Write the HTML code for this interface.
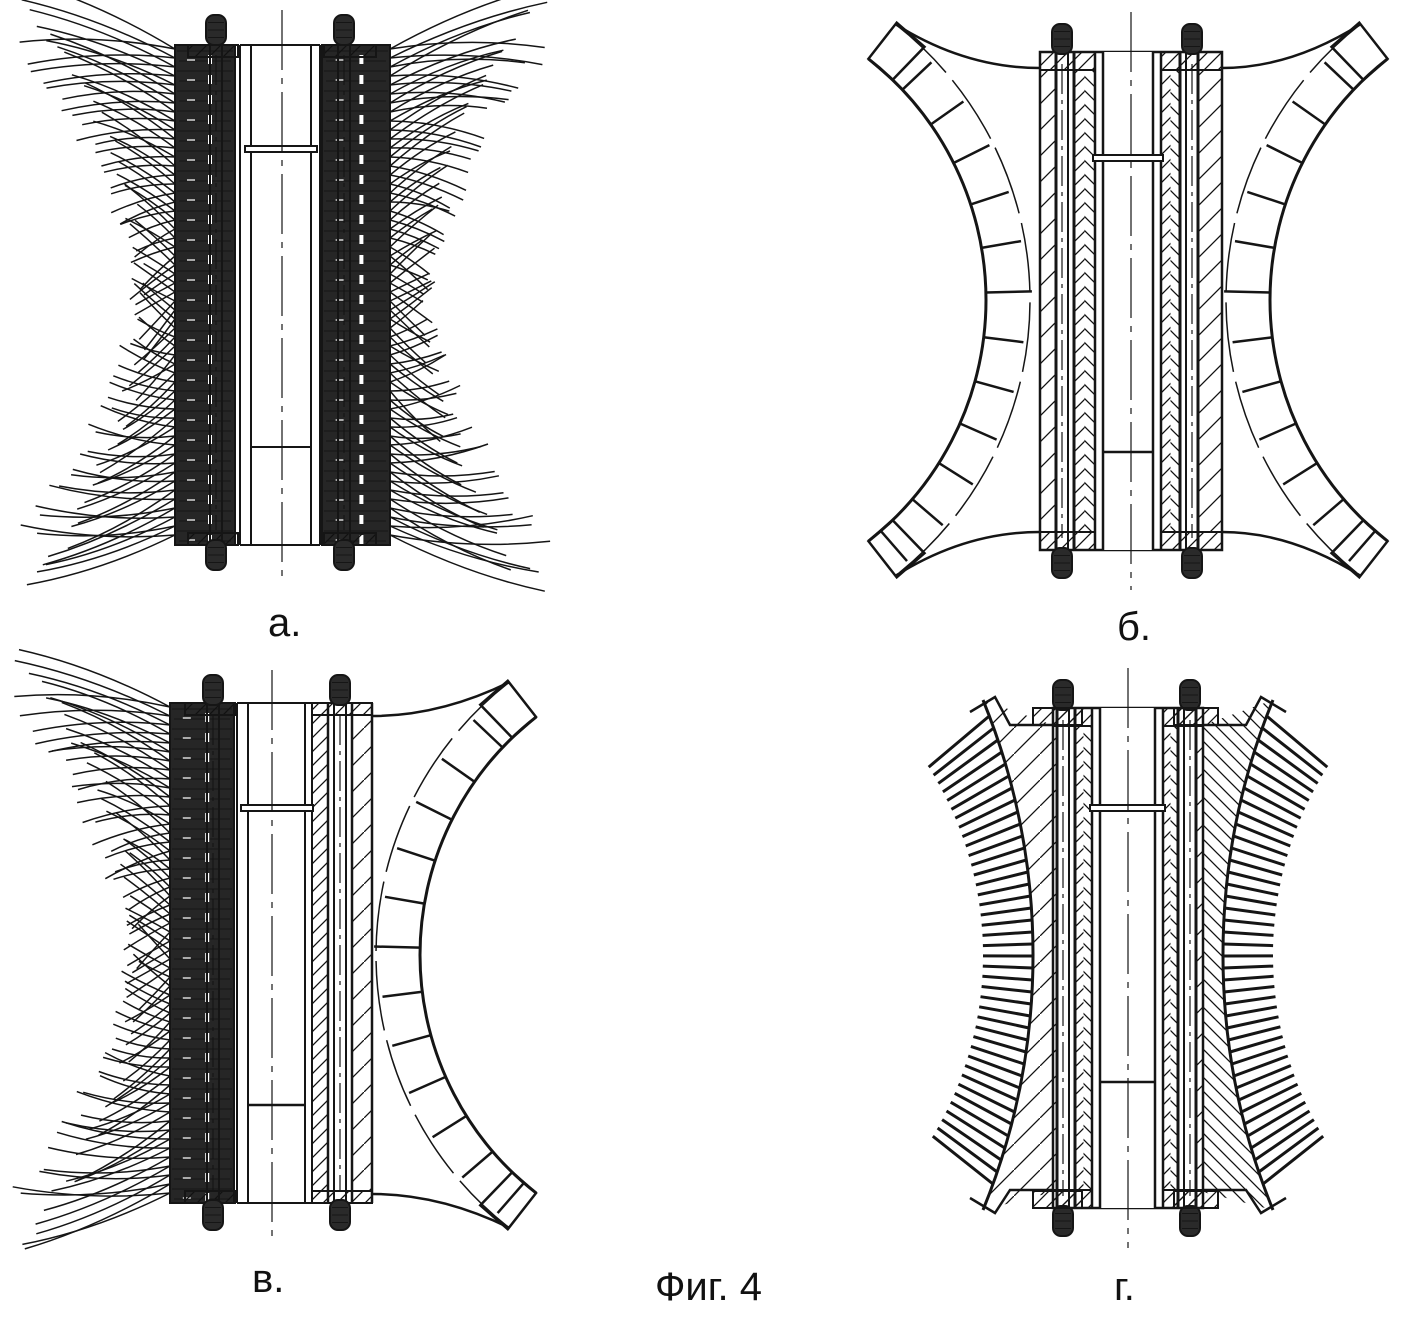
<!DOCTYPE html>
<html><head><meta charset="utf-8">
<style>
html,body{margin:0;padding:0;background:#fff;}
svg{display:block;}
text{font-family:"Liberation Sans",sans-serif;fill:#111;}
</style></head>
<body>
<svg id="s" width="1423" height="1317" viewBox="0 0 1423 1317" xmlns="http://www.w3.org/2000/svg">
<defs>
<pattern id="hd" patternUnits="userSpaceOnUse" width="14" height="14"><path d="M-2,16 L16,-2 M-2,2 L2,-2 M12,16 L16,12" stroke="#111" stroke-width="1.3"/></pattern>
<pattern id="hr" patternUnits="userSpaceOnUse" width="14" height="14"><path d="M-2,-2 L16,16 M12,-2 L16,2 M-2,12 L2,16" stroke="#111" stroke-width="1.3"/></pattern>
<pattern id="hw" patternUnits="userSpaceOnUse" width="26" height="26"><path d="M-2,28 L28,-2" stroke="#111" stroke-width="1.3"/></pattern>
</defs>
<g id="g"></g>
<text x="268" y="636" font-size="40">а.</text>
<text x="1117" y="640" font-size="40">б.</text>
<text x="252" y="1292" font-size="40">в.</text>
<text x="655" y="1300" font-size="40">Фиг. 4</text>
<text x="1114" y="1300" font-size="40">г.</text>
</svg>
<script>
var h='';var K='#151515';
function L(a,b,c,d,w,ex){h+='<line x1="'+a+'" y1="'+b+'" x2="'+c+'" y2="'+d+'" stroke="'+K+'" stroke-width="'+(w||2)+'" '+(ex||'')+'/>';}
function R(x,y,w,hh,sw,f){h+='<rect x="'+x+'" y="'+y+'" width="'+w+'" height="'+hh+'" stroke="'+K+'" stroke-width="'+(sw==null?2:sw)+'" fill="'+(f||'none')+'"/>';}
function P(d,w,f,ex){h+='<path d="'+d+'" stroke="'+K+'" stroke-width="'+(w||2)+'" fill="'+(f||'none')+'" '+(ex||'')+'/>';}
var seed=7;function rnd(){seed=(seed*16807)%2147483647;return seed/2147483647;}
function nut(x,y){h+='<rect x="'+(x-10)+'" y="'+y+'" width="20" height="30" rx="8" fill="#2a2a2a" stroke="'+K+'" stroke-width="2"/>';
 for(var i=1;i<4;i++)L(x-8,y+i*7.5,x+8,y+i*7.5,1,'stroke="#ddd"');}
function bolt(x,y1,y2){L(x-6,y1+10,x-6,y2-10,2);L(x+6,y1+10,x+6,y2-10,2);L(x,y1+40,x,y2-40,1.2,'stroke-dasharray="30 6 4 6"');nut(x,y1);nut(x,y2-30);}
function center(x,y1,y2){L(x,y1,x,y2,1.2,'stroke-dasharray="60 8 6 8"');}
function brush(x,y,w,hh){R(x,y,w,hh,2,'#262626');
 for(var yy=y+6;yy<y+hh-6;yy+=20){L(x+2,yy,x+w-2,yy,1,'stroke="#8a8a8a"');L(x+4,yy+10,x+w-4,yy+10,1,'stroke="#555"');
  h+='<rect x="'+(x+w*0.55)+'" y="'+(yy+4)+'" width="4" height="9" fill="#fff"/>';
  h+='<rect x="'+(x+w*0.2)+'" y="'+(yy+8)+'" width="8" height="2" fill="#aaa"/>';}}
function bristles(x0,yc,half,dir,farAdd){
 for(var y=yc-half+4;y<=yc+half-4;y+=9){var u=(y-yc)/half;
  for(var s=-1;s<=1;s+=2){var len=30+farAdd*u*u+rnd()*15;var ex=x0-dir*len;var ey=y+s*(18+rnd()*22)+u*30;
   var cx=(x0+ex)/2, cy=(y+ey)/2 + u*12;
   P('M'+x0+','+y+' Q'+cx.toFixed(1)+','+cy.toFixed(1)+' '+ex.toFixed(1)+','+ey.toFixed(1),1.5,'none');}}}
// ---------- Figure a ----------
(function(){
 var cx=282;
 bristles(175,295,250,1,125);bristles(390,295,250,-1,125);
 brush(175,45,60,500);brush(322,45,68,500);
 L(240,45,240,545);L(251,45,251,545);L(311,45,311,545);L(320,45,320,545);
 L(235,45,235,545,1);L(322,45,322,545,1);
 L(240,45,320,45);L(240,545,320,545);
 R(188,45,50,12,2,'url(#hd)');R(188,533,50,12,2,'url(#hd)');
 R(324,45,52,12,2,'url(#hd)');R(324,533,52,12,2,'url(#hd)');
 R(245,146,72,6,2,'#fff');L(252,447,310,447);
 bolt(216,15,570);bolt(344,15,570);
 center(cx,10,580);
})();
// ---------- band helper ----------
function band(cx,cy,R1,R2,ang,side){
 function pt(r,a){var t=a*Math.PI/180;return [cx+side*r*Math.cos(t), cy-r*Math.sin(t)];}
 var a1=pt(R1,ang),a2=pt(R1,-ang),b1=pt(R2,ang),b2=pt(R2,-ang);
 var sw=side>0?1:0;
 P('M'+a1+' A'+R1+','+R1+' 0 0 '+sw+' '+a2,3);
 P('M'+b1+' A'+R2+','+R2+' 0 0 '+sw+' '+b2,1.5,'none','stroke-dasharray="70 10"');
 for(var a=-ang+3;a<=ang-3;a+=8.4){var p=pt(R1,a),q=pt(R2-(Math.abs(a)<2?-2:4),a);L(p[0].toFixed(1),p[1].toFixed(1),q[0].toFixed(1),q[1].toFixed(1),2.5);}
 [[ang,ang-6],[-ang,-ang+6]].forEach(function(e){
  var p1=pt(R1,e[0]),p2=pt(R2+2,e[0]),p3=pt(R2+2,e[1]),p4=pt(R1,e[1]);
  P('M'+p1+' L'+p2+' L'+p3+' L'+p4+' Z',2.5);});
 return [b1,b2,a1,a2];}
function body(x1,x2,y1,y2,bx1,bx2,t1,t2,capY,lowY){
 var c=(x1+x2)/2;
 R(x1,y1,x2-x1,y2-y1,2.5);
 h+='<rect x="'+x1+'" y="'+(y1+18)+'" width="'+(bx1-6-x1)+'" height="'+(y2-y1-36)+'" fill="url(#hw)"/>';
 h+='<rect x="'+(bx1+12)+'" y="'+(y1+18)+'" width="'+((t1-(bx1+12))/2)+'" height="'+(y2-y1-36)+'" fill="url(#hd)"/>';
 h+='<rect x="'+(bx1+12+(t1-(bx1+12))/2)+'" y="'+(y1+18)+'" width="'+((t1-(bx1+12))/2)+'" height="'+(y2-y1-36)+'" fill="url(#hr)"/>';
 h+='<rect x="'+(bx2+6)+'" y="'+(y1+18)+'" width="'+(x2-bx2-6)+'" height="'+(y2-y1-36)+'" fill="url(#hw)"/>';
 h+='<rect x="'+t2+'" y="'+(y1+18)+'" width="'+((bx2-12-t2)/2)+'" height="'+(y2-y1-36)+'" fill="url(#hd)"/>';
 h+='<rect x="'+(t2+(bx2-12-t2)/2)+'" y="'+(y1+18)+'" width="'+((bx2-12-t2)/2)+'" height="'+(y2-y1-36)+'" fill="url(#hr)"/>';
 L(bx1-6,y1,bx1-6,y2,3);L(bx1+12,y1,bx1+12,y2,3);L(bx2-12,y1,bx2-12,y2,3);L(bx2+6,y1,bx2+6,y2,3);
 L(t1,y1,t1,y2,2.5);L(t1+8,y1,t1+8,y2,2);L(t2,y1,t2,y2,2.5);L(t2-8,y1,t2-8,y2,2);
 h+='<rect x="'+(t1+9)+'" y="'+y1+'" width="'+(t2-t1-18)+'" height="'+(y2-y1)+'" fill="#fff"/>';
 L(t1+8,y1,t1+8,y2,2.5);L(t2-8,y1,t2-8,y2,2.5);
 R(x1,y1,t1-x1,18,2,'url(#hd)');R(t2,y1,x2-t2,18,2,'url(#hd)');
 R(x1,y2-18,t1-x1,18,2,'url(#hd)');R(t2,y2-18,x2-t2,18,2,'url(#hd)');
 R(t1-2,capY,t2-t1+4,6,2,'#fff');L(t1+8,lowY,t2-8,lowY,2.5);
 bolt(bx1,y1-28,y2+28);bolt(bx2,y1-28,y2+28);
 center(c,y1-40,y2+40);
}
(function(){
 var b=band(680,300,306,350,52,1);
 P('M'+b[0]+' Q965,68 1040,68',2.5);P('M'+b[1]+' Q965,532 1040,532',2.5);
 var c=band(1576,300,306,350,52,-1);
 P('M'+c[0]+' Q1291,68 1222,68',2.5);P('M'+c[1]+' Q1291,532 1222,532',2.5);
 body(1040,1222,52,550,1062,1192,1095,1161,155,452);
})();
// ---------- Figure v ----------
(function(){
 seed=11;
 bristles(170,953,250,1,125);
 brush(170,703,64,500);
 L(237,703,237,1203);L(248,703,248,1203);L(305,703,305,1203);L(312,703,312,1203);
 L(237,703,372,703);L(237,1203,372,1203);
 R(185,703,50,12,2,'url(#hd)');R(185,1191,50,12,2,'url(#hd)');
 h+='<rect x="312" y="715" width="16" height="476" fill="url(#hd)"/>';
 h+='<rect x="352" y="715" width="20" height="476" fill="url(#hw)"/>';
 L(328,703,328,1203,2.5);L(352,703,352,1203,2.5);L(372,703,372,1203,2.5);
 R(312,703,60,12,2,'url(#hd)');R(312,1191,60,12,2,'url(#hd)');
 R(241,805,72,6,2,'#fff');L(249,1105,304,1105,2.5);
 bolt(213,675,1230);bolt(340,675,1230);
 center(272,670,1240);
 var b=band(722,955,302,346,52,-1);
 P('M'+b[0]+' Q440,716 372,716',2.5);P('M'+b[1]+' Q440,1194 372,1194',2.5);
})();
// ---------- Figure g ----------
(function(){
 var cx=1128;
 P('M983,700 A675,675 0 0 1 983,1210',3);
 P('M1273,700 A675,675 0 0 0 1273,1210',3);
 h+='<path d="M983,700 A675,675 0 0 1 983,1210 L1053,1192 L1053,725 Z" fill="url(#hw)"/>';
 h+='<path d="M1273,700 A675,675 0 0 0 1273,1210 L1203,1192 L1203,725 Z" fill="url(#hr)"/>';
 P('M970,712 L995,697 L1010,725 L1053,725',2.5);P('M970,1198 L995,1213 L1010,1190 L1053,1190',2.5);
 P('M1286,712 L1261,697 L1246,725 L1203,725',2.5);P('M1286,1198 L1261,1213 L1246,1190 L1203,1190',2.5);
 for(var y=716;y<=1194;y+=12){var t=(y-955)/250;var xa=358+Math.sqrt(675*675-(y-955)*(y-955));
  var ang=-t*42*Math.PI/180;var len=50+32*t*t;
  var dx=len*Math.cos(ang), dy=len*Math.sin(ang);
  L(xa.toFixed(1),y,(xa-dx).toFixed(1),(y+dy).toFixed(1),3);
  var xb=2*cx-xa;L(xb.toFixed(1),y,(xb+dx).toFixed(1),(y+dy).toFixed(1),3);}
 body(1053,1203,708,1208,1063,1190,1092,1163,805,1082);
 R(1033,708,49,17,2,'url(#hd)');R(1174,708,44,17,2,'url(#hd)');
 R(1033,1191,49,17,2,'url(#hd)');R(1174,1191,44,17,2,'url(#hd)');
})();
document.getElementById('g').innerHTML=h;
</script>
</body></html>
